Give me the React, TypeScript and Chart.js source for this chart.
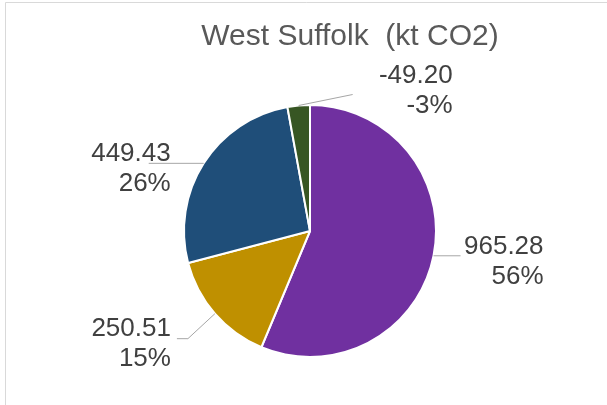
import React, { useEffect, useRef } from "react";
import { Chart, registerables } from "chart.js";
Chart.register(...registerables);

const chartTitle = "West Suffolk  (kt CO2)";
const categories = ["Transport", "Domestic", "Industry & Commercial", "LULUCF"];
const values = [965.28, 250.51, 449.43, -49.2];
const colors = ["#7030A0", "#BF9000", "#1F4E79", "#375623"];

// label placement relative to slice edge anchor: [dxRight, dyFirstLine]
const labelOffsets = [
  [110, -9],
  [-44, 15],
  [-33, -10],
  [154, -30],
];
// leader line bends relative to anchor
const leaderPaths = [
  [[27, 0]],
  [[-27, 25], [-38, 25]],
  [[-55, 0]],
  [[54, -11]],
];

export default function App() {
  const ref = useRef<HTMLCanvasElement | null>(null);
  useEffect(() => {
    const total = values.reduce((s, v) => s + Math.abs(v), 0);
    const annot = {
      id: "annot",
      beforeDraw(chart: any) {
        const ctx = chart.ctx;
        ctx.save();
        ctx.fillStyle = "#ffffff";
        ctx.fillRect(0, 0, chart.width, chart.height);
        ctx.strokeStyle = "#D9D9D9";
        ctx.lineWidth = 1;
        ctx.beginPath();
        ctx.moveTo(5.5, chart.height);
        ctx.lineTo(5.5, 2.5);
        ctx.lineTo(chart.width, 2.5);
        ctx.stroke();
        ctx.fillStyle = "#595959";
        ctx.font = "30px 'Liberation Sans', Arial, sans-serif";
        ctx.textAlign = "center";
        ctx.textBaseline = "alphabetic";
        ctx.fillText(chartTitle, 350, 45);
        ctx.restore();
      },
      afterDatasetsDraw(chart: any) {
        const ctx = chart.ctx;
        const meta = chart.getDatasetMeta(0);
        ctx.save();
        meta.data.forEach((arc: any, i: number) => {
          const p = arc.getProps(["x", "y", "startAngle", "endAngle", "outerRadius"], true);
          const mid = (p.startAngle + p.endAngle) / 2;
          const ax = p.x + Math.cos(mid) * p.outerRadius;
          const ay = p.y + Math.sin(mid) * p.outerRadius;
          ctx.strokeStyle = "#A6A6A6";
          ctx.lineWidth = 1;
          ctx.beginPath();
          ctx.moveTo(ax, ay);
          leaderPaths[i].forEach(([dx, dy]) => ctx.lineTo(ax + dx, ay + dy));
          ctx.stroke();
          const pct = Math.round((values[i] / total) * 100);
          const lx = ax + labelOffsets[i][0];
          const ly = ay + labelOffsets[i][1];
          ctx.fillStyle = "#404040";
          ctx.font = "26px 'Liberation Sans', Arial, sans-serif";
          ctx.textAlign = "right";
          ctx.textBaseline = "middle";
          ctx.fillText(values[i].toFixed(2), lx, ly);
          ctx.fillText(pct + "%", lx, ly + 30);
        });
        ctx.restore();
      },
    };
    const chart = new Chart(ref.current as HTMLCanvasElement, {
      type: "pie",
      data: {
        labels: categories,
        datasets: [
          {
            data: values.map((v) => Math.abs(v)),
            backgroundColor: colors,
            borderColor: "#ffffff",
            borderWidth: 2,
          },
        ],
      },
      options: {
        animation: false,
        responsive: false,
        layout: { padding: { top: 104, bottom: 47, left: 183, right: 170 } },
        plugins: {
          legend: { display: false },
          tooltip: { enabled: false },
          title: { display: false },
        },
      },
      plugins: [annot],
    } as any);
    return () => chart.destroy();
  }, []);
  return (
    <div style={{ position: "absolute", left: 0, top: 0, width: 607, height: 405 }}>
      <canvas ref={ref} width={607} height={405} style={{ width: 607, height: 405 }} />
    </div>
  );
}
